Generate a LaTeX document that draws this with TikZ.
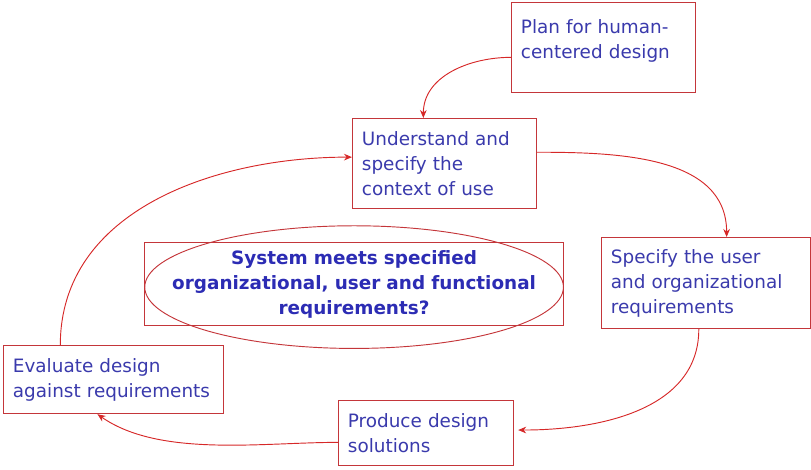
\documentclass[tikz,border=0pt]{standalone}
\usepackage{fontspec}
\setmainfont{DejaVu Sans}
\usetikzlibrary{arrows.meta}

\definecolor{boxred}{RGB}{196,54,58}
\definecolor{linkred}{RGB}{214,40,40}
\definecolor{stepblue}{RGB}{58,58,172}
\definecolor{goalblue}{RGB}{44,44,180}

\tikzset{
  stage/.style={draw=boxred,line width=0.9pt,anchor=north west,align=left,
    inner xsep=7pt,inner ysep=0pt,text=stepblue,
    font=\fontsize{13.8pt}{18.75pt}\selectfont},
  link/.style={draw=linkred,line width=0.7pt,-{Stealth[length=6pt,width=5pt]}},
}

\begin{document}
\begin{tikzpicture}[x=0.75pt,y=-0.75pt]
  \useasboundingbox (0,0) rectangle (811,469);
  % the five stages
  \node[stage,text width=124pt,minimum width=138pt,minimum height=67.5pt]
    (plan) at (511,2) {Plan for human-\\centered design\\[-11pt]\strut};
  \node[stage,text width=124pt,minimum width=138pt,minimum height=67.5pt]
    (context) at (352,118) {Understand and\\specify the\\context of use};
  \node[stage,text width=142.75pt,minimum width=156.75pt,minimum height=68.25pt]
    (require) at (601,237) {Specify the user\\and organizational\\requirements};
  \node[stage,text width=117.25pt,minimum width=131.25pt,minimum height=48.75pt]
    (produce) at (338,400) {Produce design\\solutions};
  \node[stage,text width=151pt,minimum width=165pt,minimum height=51pt]
    (evaluate) at (3,345) {Evaluate design\\against requirements};
  % the question in the middle
  \node[stage,align=center,text=goalblue,text width=300.25pt,minimum width=314.25pt,
    minimum height=62.25pt,font=\fontsize{13.8pt}{18.75pt}\selectfont\bfseries]
    (goal) at (144,242) {System meets specified\\organizational, user and functional\\requirements?};
  \draw[boxred,line width=0.7pt] (goal.center) ++(0,3) ellipse [x radius=157pt,y radius=46pt];
  % the cycle
  \draw[link] (plan.186) to[out=180,in=90] (context.115);
  \draw[link] (context.7) to[out=0,in=90] (require.66);
  \draw[link] (require.261) to[out=270,in=0] ([xshift=3pt]produce.2);
  \draw[link] (produce.186) to[out=180,in=-35,looseness=0.8] (evaluate.245);
  \draw[link] (evaluate.147) to[out=90,in=180] (context.176);
\end{tikzpicture}
\end{document}
